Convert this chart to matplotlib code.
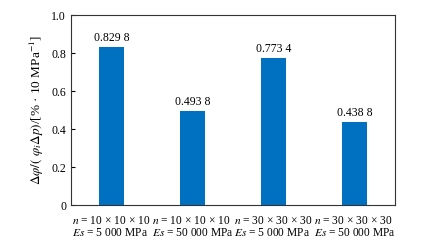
import matplotlib.pyplot as plt

plt.rcParams['font.family'] = ['Liberation Serif', 'DejaVu Serif']
plt.rcParams['mathtext.fontset'] = 'stix'

categories = [r"$n$ = 10 × 10 × 10" + "\n" + r"$Es$ = 5 000 MPa",
              r"$n$ = 10 × 10 × 10" + "\n" + r"$Es$ = 50 000 MPa",
              r"$n$ = 30 × 30 × 30" + "\n" + r"$Es$ = 5 000 MPa",
              r"$n$ = 30 × 30 × 30" + "\n" + r"$Es$ = 50 000 MPa"]
values = [0.8298, 0.4938, 0.7734, 0.4388]
value_labels = ["0.829 8", "0.493 8", "0.773 4", "0.438 8"]
yticks = [0, 0.2, 0.4, 0.6, 0.8, 1.0]
ytick_labels = ["0", "0.2", "0.4", "0.6", "0.8", "1.0"]

fig = plt.figure(figsize=(4.36, 2.5), dpi=100)
ax = fig.add_axes([71 / 436, 45 / 250, 324 / 436, 190 / 250])

x = range(len(values))
ax.bar(x, values, width=0.31, color="#0070c0")
for i, v in enumerate(values):
    ax.text(i, v + 0.015, value_labels[i], ha="center", va="bottom", fontsize=8.5)

ax.set_xlim(-0.5, 3.5)
ax.set_ylim(0, 1.0)
ax.set_yticks(yticks)
ax.set_yticklabels(ytick_labels, fontsize=8.5)
ax.set_xticks(list(x))
ax.set_xticklabels(categories, fontsize=8.3, linespacing=1.0, multialignment="left")
ax.tick_params(axis="x", length=0, pad=7)
ax.tick_params(axis="y", direction="in", length=3)
ax.set_ylabel(r"$\Delta\varphi/(\ \varphi_i\Delta p)$/[% · 10 MPa$^{-1}$]", fontsize=9.5, labelpad=4)
for s in ax.spines.values():
    s.set_linewidth(0.8)
    s.set_color("#333333")

fig.savefig("out.png", dpi=100)
